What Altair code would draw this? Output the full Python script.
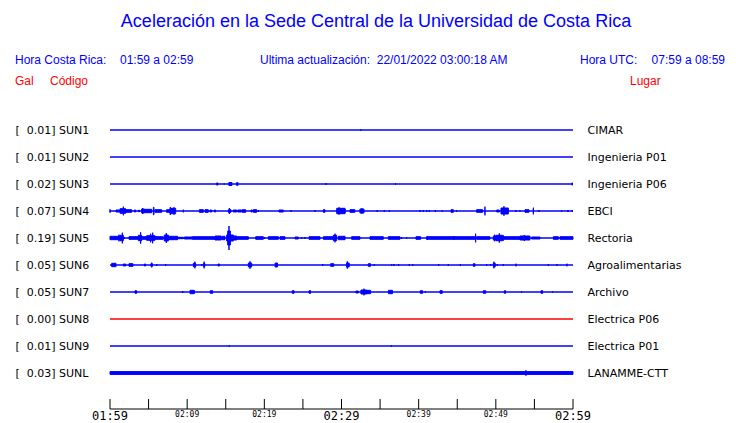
import altair as alt
import pandas as pd

# ---------------- data ----------------
codes = ["SUN1", "SUN2", "SUN3", "SUN4", "SUN5", "SUN6", "SUN7", "SUN8", "SUN9", "SUNL"]
gal = [0.01, 0.01, 0.02, 0.07, 0.19, 0.05, 0.05, 0.00, 0.01, 0.03]
places = ["CIMAR", "Ingenieria P01", "Ingenieria P06", "EBCI", "Rectoria",
          "Agroalimentarias", "Archivo", "Electrica P06", "Electrica P01", "LANAMME-CTT"]
trace_colors = ["#0000ff"] * 7 + ["#ff0000"] + ["#0000ff"] * 2

tick_minutes = [0, 5, 10, 15, 20, 25, 30, 35, 40, 45, 50, 55, 60]
major_minutes = [0, 30, 60]
major_labels = ["01:59", "02:29", "02:59"]
minor_minutes = [10, 20, 40, 50]
minor_labels = ["02:09", "02:19", "02:39", "02:49"]

# bursts: (start minute, end minute, half amplitude)
sun1 = [(32.5, 32.5, 0.7)]
sun2 = []
sun3 = [(13.8, 14.0, 1.0), (14.8, 14.8, 0.5), (15.4, 15.8, 1.5), (16.4, 16.6, 1.3),
        (28.0, 28.0, 1.0), (37.0, 37.0, 1.0), (59.9, 59.9, 1.3)]
sun4 = [(0.0, 0.0, 1.7), (0.78, 1.30, 1.0), (1.30, 2.03, 2.3), (1.73, 1.73, 4.3),
        (2.03, 2.81, 1.3), (3.15, 3.33, 1.0), (3.67, 3.84, 0.7), (4.10, 4.45, 2.0),
        (4.23, 4.23, 3.0), (4.45, 5.40, 1.7), (5.62, 5.70, 3.7), (5.83, 6.70, 1.3),
        (7.34, 7.78, 1.3), (7.78, 7.99, 2.7), (7.82, 7.82, 4.0), (7.99, 8.51, 2.7),
        (8.29, 8.29, 3.7), (9.50, 9.50, 1.3), (11.58, 12.10, 1.3), (12.31, 12.74, 1.3),
        (12.96, 13.18, 1.0), (13.52, 13.69, 1.0), (15.34, 15.68, 1.3), (15.47, 15.47, 3.0),
        (15.98, 16.42, 1.0), (16.55, 17.06, 1.0), (17.15, 17.58, 1.3), (18.27, 18.45, 1.0),
        (18.58, 19.01, 1.3), (19.22, 19.22, 1.0), (21.90, 22.46, 1.0), (23.46, 23.46, 1.0),
        (26.57, 26.57, 1.0), (27.65, 27.86, 1.3), (29.38, 30.46, 2.7), (29.68, 29.68, 3.7),
        (30.45, 30.45, 2.0), (31.10, 31.74, 1.3), (32.39, 32.91, 2.0), (32.65, 32.65, 2.7),
        (34.64, 34.64, 1.0), (35.55, 35.55, 1.0), (36.19, 36.19, 0.7), (40.17, 40.17, 1.0),
        (40.60, 40.60, 1.0), (41.03, 41.03, 1.0), (41.38, 41.38, 1.0), (42.16, 42.16, 1.0),
        (43.06, 43.06, 0.7), (44.19, 44.49, 1.3), (44.92, 44.92, 1.0), (47.51, 48.29, 1.3),
        (48.59, 48.59, 4.3), (50.10, 50.45, 1.0), (50.67, 51.62, 3.0), (51.05, 51.05, 4.7),
        (52.61, 52.61, 1.0), (53.13, 53.13, 0.7), (53.78, 54.29, 1.3), (54.86, 54.86, 3.3),
        (55.59, 55.59, 1.0), (58.53, 58.53, 0.7), (59.35, 59.35, 1.0), (59.91, 59.91, 1.0)]
sun5 = [(0.0, 1.60, 1.7), (1.17, 1.17, 3.3), (1.30, 1.73, 2.7), (1.60, 1.60, 5.3),
        (1.86, 1.86, 1.0), (2.46, 3.67, 1.3), (3.67, 4.10, 2.7), (3.97, 3.97, 5.7),
        (4.10, 4.75, 1.3), (4.75, 5.83, 2.3), (5.27, 5.27, 4.3), (5.53, 5.53, 5.3),
        (5.83, 6.91, 1.3), (7.04, 7.56, 3.0), (7.30, 7.30, 5.0), (7.56, 8.77, 1.7),
        (8.86, 9.50, 0.7), (9.63, 10.15, 1.0), (10.15, 10.67, 1.0), (10.67, 13.61, 1.3),
        (13.61, 14.39, 2.0), (14.47, 14.90, 1.7), (15.12, 15.98, 3.0), (15.25, 15.60, 7.0),
        (15.42, 15.42, 12.0), (15.98, 16.42, 2.0), (16.42, 17.93, 1.3), (18.88, 19.87, 1.3),
        (20.0, 20.0, 1.0), (20.52, 21.82, 1.3), (22.03, 22.68, 1.3), (23.98, 24.41, 1.0),
        (24.84, 24.84, 1.0), (25.27, 25.27, 1.0), (25.79, 27.22, 1.3), (27.65, 28.94, 1.3),
        (28.94, 29.38, 2.7), (29.16, 29.16, 4.3), (29.59, 30.46, 1.7), (31.31, 32.39, 1.3),
        (33.69, 35.42, 1.3), (36.06, 37.58, 1.3), (37.79, 37.79, 1.0), (38.44, 38.44, 1.0),
        (39.65, 40.25, 1.3), (41.03, 47.30, 1.3), (41.12, 41.12, 2.0), (44.57, 44.57, 2.0),
        (47.38, 47.38, 4.3), (47.51, 49.24, 1.3), (49.67, 50.10, 2.0), (49.84, 49.84, 3.3),
        (50.02, 50.97, 2.7), (50.45, 50.45, 4.7), (50.97, 53.13, 1.3), (53.13, 54.42, 2.0),
        (53.69, 53.69, 3.0), (54.64, 55.72, 1.0), (57.45, 58.10, 1.3), (58.31, 60.0, 1.3)]
sun6 = [(0.22, 0.78, 1.7), (1.73, 2.03, 1.0), (2.46, 2.98, 1.3), (4.45, 4.62, 1.0),
        (5.30, 5.50, 1.3), (5.40, 5.40, 2.3), (6.05, 6.05, 1.0), (7.21, 7.21, 1.0),
        (10.80, 11.10, 1.7), (11.00, 11.00, 3.3), (11.88, 11.88, 1.0), (12.10, 12.30, 1.3),
        (12.20, 12.20, 3.3), (14.00, 14.20, 1.0), (17.93, 18.36, 2.0), (18.14, 18.14, 3.7),
        (21.40, 21.70, 2.0), (27.56, 27.56, 1.0), (28.60, 29.00, 1.3), (30.66, 31.00, 2.0),
        (30.75, 30.75, 3.7), (33.47, 33.77, 1.3), (34.25, 34.25, 1.0), (36.50, 36.50, 0.7),
        (36.80, 36.80, 1.0), (37.40, 37.40, 1.0), (38.79, 38.79, 1.0), (39.22, 39.22, 1.0),
        (42.59, 42.59, 1.0), (43.84, 43.84, 1.0), (45.40, 45.40, 1.0), (47.08, 47.30, 1.3),
        (48.81, 48.81, 1.0), (49.33, 49.33, 1.0), (49.67, 49.93, 1.7), (49.76, 49.76, 3.3),
        (50.19, 50.19, 1.0), (50.97, 50.97, 1.0), (52.61, 52.61, 1.3), (56.80, 56.80, 1.0),
        (57.92, 57.92, 1.0), (59.22, 59.22, 1.3)]
sun7 = [(3.24, 3.46, 1.3), (9.42, 9.42, 1.0), (10.37, 10.93, 1.7), (13.00, 13.30, 1.3),
        (23.63, 23.85, 1.3), (25.79, 26.00, 1.3), (31.87, 32.18, 1.0), (32.52, 33.26, 2.0),
        (32.91, 32.91, 3.3), (33.26, 33.77, 1.7), (36.10, 36.60, 1.7), (40.21, 40.51, 1.3),
        (40.86, 40.86, 0.7), (42.76, 43.06, 1.3), (48.38, 48.68, 1.3), (51.10, 51.27, 1.3),
        (53.34, 53.34, 0.7), (55.85, 56.07, 1.3), (57.36, 57.36, 0.7)]
sun8 = []
sun9 = [(15.46, 15.46, 0.7), (36.45, 36.45, 0.7)]
sunl = [(0.0, 60.0, 1.4), (53.9, 53.9, 2.7)]

bursts_by_station = [sun1, sun2, sun3, sun4, sun5, sun6, sun7, sun8, sun9, sunl]

# ---------------- tables ----------------
ROW_UNITS = 27.0  # amplitude units per trace spacing
base_df = pd.DataFrame({
    "row": list(range(len(codes))),
    "start": [0] * len(codes),
    "end": [60] * len(codes),
    "color": trace_colors,
})
rec = []
for i, bl in enumerate(bursts_by_station):
    for t0, t1, a in bl:
        rec.append({"row": i, "t0": t0, "t1": t1,
                    "ylo": i - a / ROW_UNITS, "yhi": i + a / ROW_UNITS,
                    "color": trace_colors[i]})
burst_df = pd.DataFrame(rec)
tick_df = pd.DataFrame({"t": tick_minutes})
axis_df = pd.DataFrame({"start": [tick_minutes[0]], "end": [tick_minutes[-1]]})
major_df = pd.DataFrame({"t": major_minutes, "label": major_labels})
minor_df = pd.DataFrame({"t": minor_minutes, "label": minor_labels})

left_labels = ["[\u00a0\u00a0%.2f] %s" % (g, c) for g, c in zip(gal, codes)]

def js_array(items):
    return "[" + ",".join("'" + s + "'" for s in items) + "]"

W, H = 463, 306
xs = alt.Scale(domain=[0, 60], nice=False, zero=False)
ys = alt.Scale(domain=[-1, 10.3333], reverse=True, nice=False, zero=False)

left_axis = alt.Axis(orient="left", values=list(range(10)), grid=False, ticks=False, tickSize=0,
                     domain=False, labelExpr=js_array(left_labels) + "[datum.value]",
                     labelAlign="left", labelPadding=95, labelFont="DejaVu Sans",
                     labelFontSize=11, labelColor="black", labelBaseline="middle",
                     labelOverlap=False, labelFlush=False, title=None)
right_axis = alt.Axis(orient="right", values=list(range(10)), grid=False, ticks=False, tickSize=0,
                      domain=False, labelExpr=js_array(places) + "[datum.value]",
                      labelAlign="left", labelPadding=14, labelFont="DejaVu Sans",
                      labelFontSize=11, labelColor="black", labelBaseline="middle",
                      labelOverlap=False, labelFlush=False, title=None)

# time axis drawn by hand (ticks point up into the plot)
axis_line = alt.Chart(axis_df).mark_rule(color="black", strokeWidth=1).encode(
    x=alt.X("start:Q", scale=xs, axis=None),
    x2="end:Q",
    y=alt.value(H),
)
ticks = alt.Chart(tick_df).mark_rule(color="black", strokeWidth=1).encode(
    x=alt.X("t:Q", scale=xs, axis=None),
    y=alt.value(H),
    y2=alt.value(H - 10),
)
major_text = alt.Chart(major_df).mark_text(
    font="DejaVu Sans Mono", fontSize=12, color="black", baseline="middle", align="center"
).encode(x=alt.X("t:Q", scale=xs, axis=None), y=alt.value(H + 7), text="label:N")
minor_text = alt.Chart(minor_df).mark_text(
    font="DejaVu Sans Mono", fontSize=8, color="black", baseline="middle", align="center"
).encode(x=alt.X("t:Q", scale=xs, axis=None), y=alt.value(H + 6), text="label:N")

baselines = alt.Chart(base_df).mark_rule(strokeWidth=1.3).encode(
    x=alt.X("start:Q", scale=xs, axis=None),
    x2="end:Q",
    y=alt.Y("row:Q", scale=ys, axis=left_axis),
    color=alt.Color("color:N", scale=None),
)

bursts = alt.Chart(burst_df).mark_rect(strokeWidth=1).encode(
    x=alt.X("t0:Q", scale=xs, axis=None),
    x2="t1:Q",
    y=alt.Y("ylo:Q", scale=ys, axis=right_axis),
    y2="yhi:Q",
    fill=alt.Color("color:N", scale=None),
    stroke=alt.Color("color:N", scale=None),
)

def txt(s, x, y, color, size=12, align="left", font="Liberation Sans"):
    return alt.Chart(pd.DataFrame({"k": [0]})).mark_text(
        text=s, align=align, baseline="middle", font=font, fontSize=size, color=color
    ).encode(x=alt.value(x), y=alt.value(y))

BLUE, RED = "#0000ff", "#ff0000"
header = [
    txt("Aceleración en la Sede Central de la Universidad de Costa Rica", 266, -81, BLUE, 18, "center"),
    txt("Hora Costa Rica:", -95, -43, BLUE),
    txt("01:59 a 02:59", 10, -43, BLUE),
    txt("Ultima actualización:\u00a0\u00a022/01/2022 03:00:18 AM", 150, -43, BLUE),
    txt("Hora UTC:", 470, -43, BLUE),
    txt("07:59 a 08:59", 615, -43, BLUE, align="right"),
    txt("Gal", -95, -22, RED),
    txt("Código", -60, -22, RED),
    txt("Lugar", 520, -22, RED),
]

chart = alt.layer(baselines, bursts, axis_line, ticks, major_text, minor_text, *header).resolve_axis(
    y="independent"
).properties(
    width=W, height=H,
    padding={"left": 102, "top": 95, "right": 159, "bottom": 14},
    autosize=alt.AutoSizeParams(type="none"),
).configure(background="white", view=alt.ViewConfig(stroke=None, strokeWidth=0))

chart.save("out.html", embed_options={"renderer": "svg", "actions": False})
